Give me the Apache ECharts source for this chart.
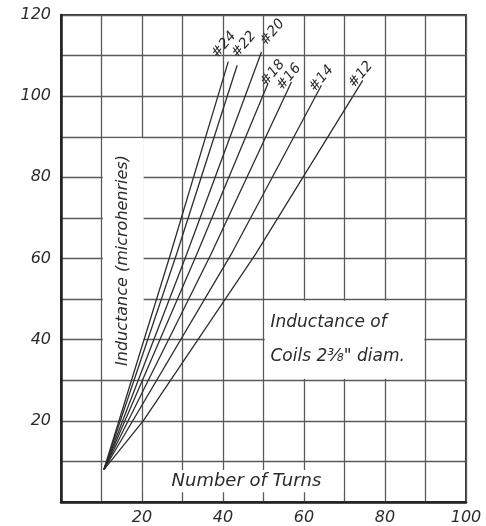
<!DOCTYPE html>
<html>
<head>
<meta charset="utf-8">
<script src="https://cdn.jsdelivr.net/npm/echarts@6/dist/echarts.min.js"></script>
<style>
  html, body { margin: 0; padding: 0; background: #fff; }
  #chart { width: 486px; height: 526px; }
</style>
</head>
<body>
<div id="chart"></div>
<script>
// wire gauges, one curve each
const gaugeNames = ['#24', '#22', '#20', '#18', '#16', '#14', '#12']

// number of turns / inductance (microhenries)
const turns24 = [10.6, 27.0, 41.3]
const induct24 = [8, 61, 108.5]
const turns22 = [10.6, 28.5, 43.5]
const induct22 = [8, 61, 107.6]
const turns20 = [10.6, 31.0, 49.5]
const induct20 = [8, 61, 110.9]
const turns18 = [10.6, 33.5, 51.1]
const induct18 = [8, 61, 103.1]
const turns16 = [10.6, 37.0, 56.9]
const induct16 = [8, 61, 103.5]
const turns14 = [10.6, 42.0, 64.3]
const induct14 = [8, 61, 102.7]
const turns12 = [10.6, 20.3, 48.0, 74.5]
const induct12 = [8, 20, 61, 103.9]

const xTickLabels = [20, 40, 60, 80, 100]
const yTickLabels = [20, 40, 60, 80, 100, 120]

const allTurns = [turns24, turns22, turns20, turns18, turns16, turns14, turns12]
const allInduct = [induct24, induct22, induct20, induct18, induct16, induct14, induct12]

const ink = '#2b2b2b'
const gridInk = '#5a5a5a'
const font = 'DejaVu Sans'
// nudges for the gauge tags at the line ends (in the tag's rotated frame)
const tagOffsets = [[4, -2], [14, 4], [16, 8], [5, 9], [-4, 7], [-1, 8], [-3, 7]]

const chart = echarts.init(document.getElementById('chart'))

const seriesData = []
gaugeNames.forEach((name, i) => {
  const xs = allTurns[i]
  const ys = allInduct[i]
  const pts = xs.map((x, k) => {
    if (k < xs.length - 1) return [x, ys[k]]
    return {
      value: [x, ys[k]],
      label: {
        show: true,
        formatter: name,
        position: 'top',
        distance: 8,
        rotate: 50,
        offset: tagOffsets[i],
        color: ink,
        fontFamily: font,
        fontStyle: 'italic',
        fontSize: 14
      }
    }
  })
  seriesData.push({
    name: name,
    type: 'line',
    z: 3,
    data: pts,
    symbol: 'circle',
    symbolSize: 0,
    showSymbol: true,
    silent: true,
    lineStyle: { color: '#2e2e2e', width: 1.3 },
    itemStyle: { color: '#2e2e2e' },
    label: { show: false }
  })
})

// white boxes holding the lettering
seriesData.push({
  type: 'line',
  z: 1,
  data: [],
  silent: true,
  markArea: {
    silent: true,
    itemStyle: { color: '#fff', borderWidth: 0 },
    label: {
      position: 'inside',
      color: ink,
      fontFamily: font,
      fontStyle: 'italic'
    },
    data: [
      [
        {
          coord: [50.3, 30.4],
          label: {
            formatter: 'Inductance of\nCoils 2\u215C" diam.',
            fontSize: 17,
            lineHeight: 34,
            align: 'left',
            offset: [-74, 0]
          }
        },
        { coord: [89.7, 49.6] }
      ],
      [
        {
          coord: [20.4, 2.4],
          label: { formatter: 'Number of Turns', fontSize: 18, offset: [3, 0] }
        },
        { coord: [69.7, 7.9] }
      ],
      [
        {
          coord: [10.3, 30.4],
          label: { formatter: 'Inductance (microhenries)', fontSize: 16, rotate: 90, offset: [-2, 0] }
        },
        { coord: [20.4, 89.6] }
      ]
    ]
  }
})

const option = {
  animation: false,
  backgroundColor: '#fff',
  grid: {
    left: 61,
    right: 20,
    top: 15,
    bottom: 24,
    show: true,
    borderColor: '#333',
    borderWidth: 2
  },
  xAxis: {
    type: 'value',
    min: 0,
    max: 100,
    interval: 10,
    axisLine: { show: true, lineStyle: { color: '#222', width: 2.5 } },
    axisTick: { show: false },
    axisLabel: {
      margin: 8,
      color: ink,
      fontFamily: font,
      fontStyle: 'italic',
      fontSize: 16,
      formatter: v => (xTickLabels.includes(v) ? String(v) : '')
    },
    splitLine: { show: true, lineStyle: { color: gridInk, width: 1.3 } }
  },
  yAxis: {
    type: 'value',
    min: 0,
    max: 120,
    interval: 10,
    axisLine: { show: true, lineStyle: { color: '#222', width: 2.5 } },
    axisTick: { show: false },
    axisLabel: {
      margin: 10,
      color: ink,
      fontFamily: font,
      fontStyle: 'italic',
      fontSize: 16,
      formatter: v => (yTickLabels.includes(v) ? String(v) : '')
    },
    splitLine: { show: true, lineStyle: { color: gridInk, width: 1.3 } }
  },
  series: seriesData
}

chart.setOption(option)
</script>
</body>
</html>
